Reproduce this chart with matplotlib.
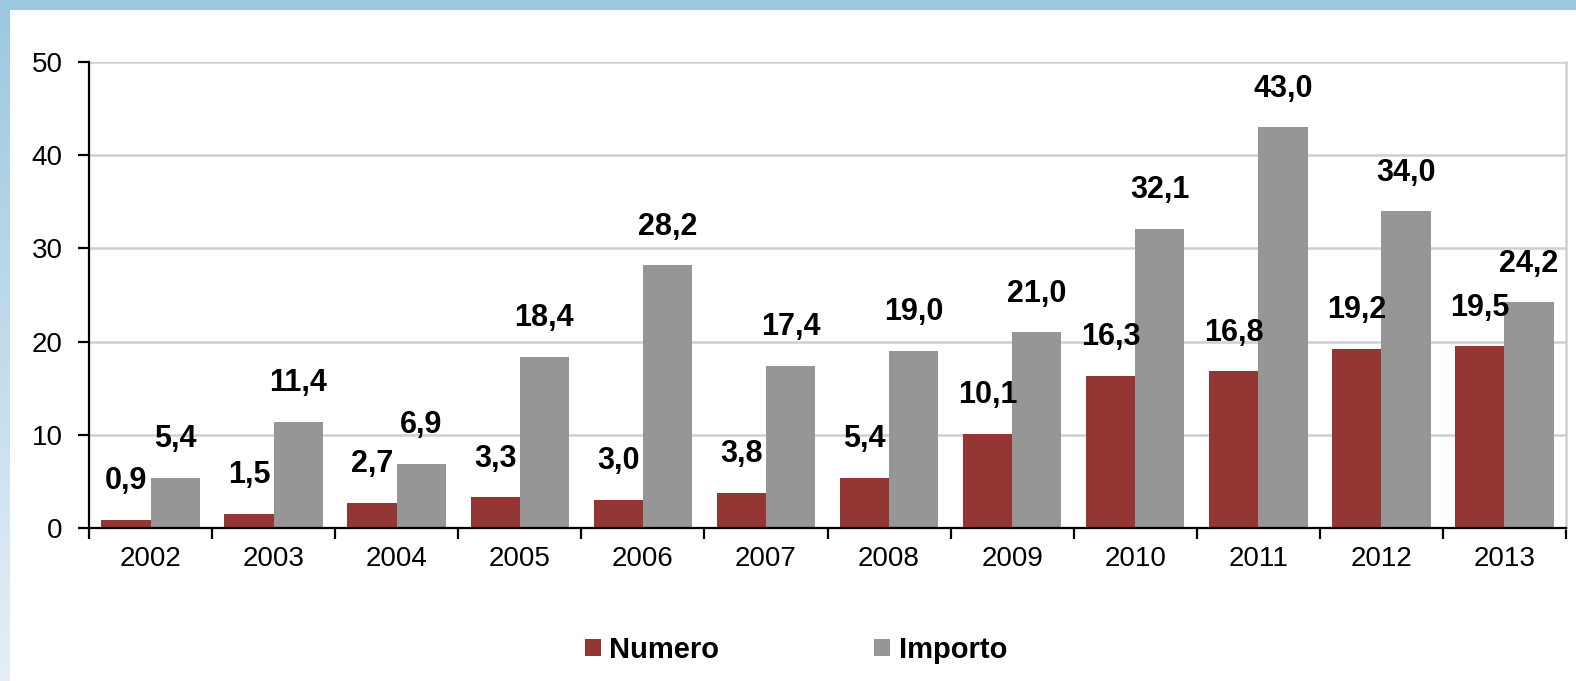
import numpy as np
import matplotlib
matplotlib.use("Agg")
import matplotlib.pyplot as plt
from matplotlib.patches import Rectangle

years = ["2002", "2003", "2004", "2005", "2006", "2007",
         "2008", "2009", "2010", "2011", "2012", "2013"]
numero = [0.9, 1.5, 2.7, 3.3, 3.0, 3.8, 5.4, 10.1, 16.3, 16.8, 19.2, 19.5]
importo = [5.4, 11.4, 6.9, 18.4, 28.2, 17.4, 19.0, 21.0, 32.1, 43.0, 34.0, 24.2]

RED = "#943634"
GRAY = "#969696"
BLUE = "#9CC7E1"

plt.rcParams["font.family"] = ["Liberation Sans", "DejaVu Sans"]

fig = plt.figure(figsize=(15.76, 6.81), dpi=100)

# light blue frame (top band + fading left band)
bg = fig.add_axes([0, 0, 1, 1], zorder=-5)
bg.set_axis_off()
bg.set_xlim(0, 1576)
bg.set_ylim(681, 0)
bg.add_patch(Rectangle((0, 0), 1576, 10, color=BLUE, lw=0))
grad = np.linspace(0, 1, 256).reshape(-1, 1)
cmap = matplotlib.colors.LinearSegmentedColormap.from_list("fade", [BLUE, "#E6EFF7"])
bg.imshow(grad, cmap=cmap, extent=(0, 10, 681, 0), aspect="auto")

ax = fig.add_axes([89 / 1576, 1 - 528 / 681, (1566 - 89) / 1576, (528 - 62) / 681])
x = np.arange(len(years))
w = 0.4
ax.bar(x + 0.3, numero, w, color=RED, label="Numero", zorder=3)
ax.bar(x + 0.7, importo, w, color=GRAY, label="Importo", zorder=3)

for xi, v in zip(x, numero):
    ax.annotate(f"{v:.1f}".replace(".", ","), (xi + 0.3, v), xytext=(0, 17),
                textcoords="offset points", ha="center", va="bottom",
                fontsize=22, fontweight="bold")
for xi, v in zip(x, importo):
    ax.annotate(f"{v:.1f}".replace(".", ","), (xi + 0.7, v), xytext=(0, 17),
                textcoords="offset points", ha="center", va="bottom",
                fontsize=22, fontweight="bold")

ax.set_xlim(0, 12)
ax.set_ylim(0, 50)
ax.set_yticks(range(0, 51, 10))
ax.set_xticks(range(0, 13))
ax.set_xticklabels([])
ax.set_xticks(x + 0.5, minor=True)
ax.set_xticklabels(years, minor=True)
ax.tick_params(axis="x", which="major", length=8, width=1.6, direction="out")
ax.tick_params(axis="x", which="minor", length=0, pad=13, labelsize=20)
ax.tick_params(axis="y", length=8, width=1.6, pad=11, labelsize=20)
ax.grid(axis="y", color="#CFCFCF", lw=1.8, zorder=0)

for s in ["left", "bottom"]:
    ax.spines[s].set_linewidth(1.6)
    ax.spines[s].set_zorder(4)
ax.spines["right"].set_color("#CFCFCF")
ax.spines["right"].set_linewidth(1.8)
ax.spines["top"].set_visible(False)

fig.legend(loc="center", bbox_to_anchor=(0.505, 1 - 650 / 681), ncol=2, frameon=False,
           prop={"size": 21, "weight": "bold"}, handlelength=0.55, handleheight=0.55,
           handletextpad=0.3, columnspacing=5.3)

fig.savefig("out.png", dpi=100)
